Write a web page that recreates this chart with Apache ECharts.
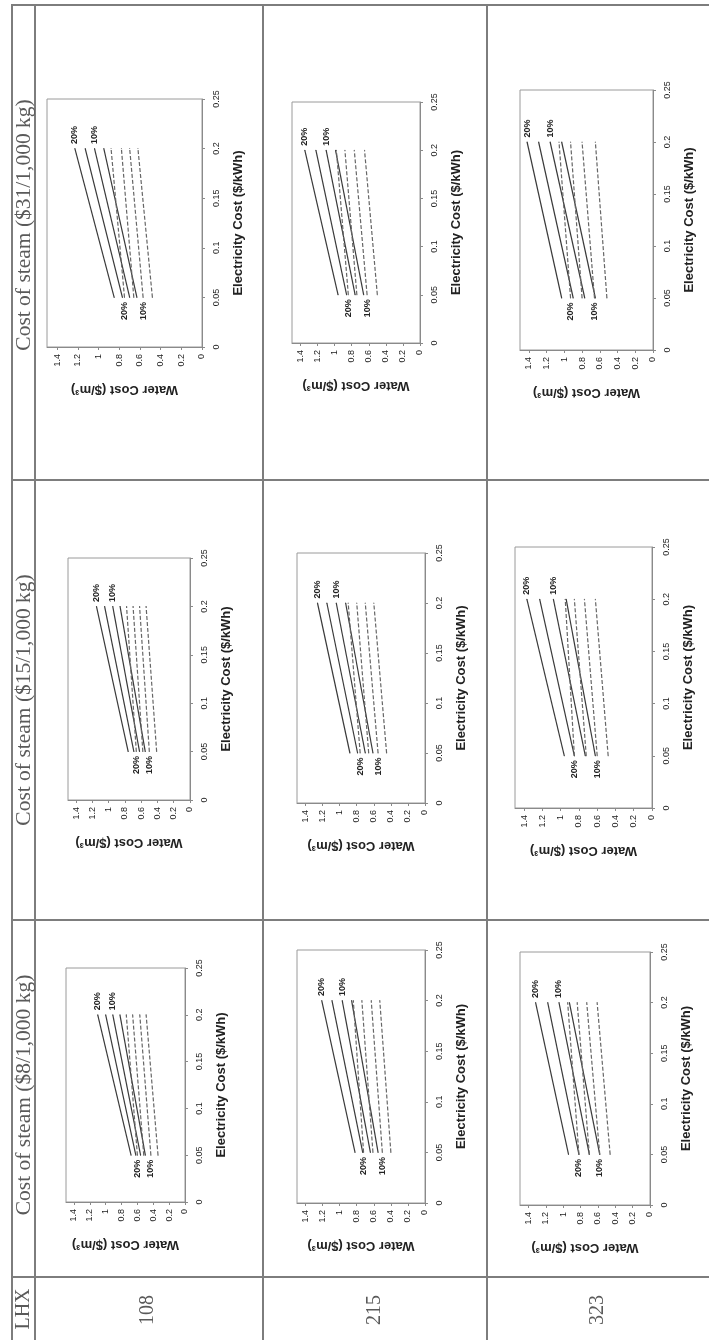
<!DOCTYPE html>
<html><head><meta charset="utf-8">
<script src="https://cdn.jsdelivr.net/npm/echarts@6/dist/echarts.min.js"></script>
<style>html,body{margin:0;padding:0;background:#fff}#main{width:709px;height:1340px}</style>
</head><body><div id="main"></div>
<script>
// ---------------- DATA ----------------
const headerLHX = 'LHX';
const steamCostLabels = ['Cost of steam ($31/1,000 kg)', 'Cost of steam ($15/1,000 kg)', 'Cost of steam ($8/1,000 kg)'];
const lhxLabels = ['108', '215', '323'];
const electricityPoints = [0.05, 0.2];           // $/kWh at line start / end
const lineLabels = ['20%', '', '10%', ''];
// each pair = [water cost at 0.05 $/kWh, water cost at 0.2 $/kWh]
const solid_108_31  = [[0.85, 1.23], [0.77, 1.13], [0.70, 1.04], [0.63, 0.95]];
const dashed_108_31 = [[0.75, 0.88], [0.66, 0.78], [0.57, 0.70], [0.48, 0.62]];
const solid_215_31  = [[0.96, 1.35], [0.86, 1.22], [0.76, 1.10], [0.66, 0.99]];
const dashed_215_31 = [[0.84, 0.98], [0.74, 0.88], [0.62, 0.77], [0.50, 0.65]];
const solid_323_31  = [[1.03, 1.42], [0.90, 1.29], [0.77, 1.16], [0.65, 1.03]];
const dashed_323_31 = [[0.93, 1.06], [0.80, 0.93], [0.66, 0.80], [0.52, 0.65]];
const solid_108_15  = [[0.76, 1.15], [0.69, 1.05], [0.62, 0.95], [0.55, 0.86]];
const dashed_108_15 = [[0.66, 0.78], [0.58, 0.70], [0.50, 0.62], [0.41, 0.54]];
const solid_215_15  = [[0.88, 1.26], [0.79, 1.15], [0.70, 1.04], [0.61, 0.93]];
const dashed_215_15 = [[0.76, 0.90], [0.66, 0.80], [0.55, 0.70], [0.45, 0.60]];
const solid_323_15  = [[0.96, 1.37], [0.85, 1.23], [0.73, 1.08], [0.62, 0.94]];
const dashed_323_15 = [[0.85, 0.95], [0.72, 0.85], [0.60, 0.74], [0.48, 0.62]];
const solid_108_8   = [[0.68, 1.10], [0.62, 1.00], [0.56, 0.91], [0.50, 0.82]];
const dashed_108_8  = [[0.60, 0.74], [0.52, 0.66], [0.43, 0.57], [0.34, 0.49]];
const solid_215_8   = [[0.82, 1.21], [0.73, 1.09], [0.64, 0.97], [0.55, 0.86]];
const dashed_215_8  = [[0.72, 0.84], [0.61, 0.74], [0.50, 0.63], [0.40, 0.53]];
const solid_323_8   = [[0.94, 1.32], [0.82, 1.18], [0.70, 1.05], [0.58, 0.93]];
const dashed_323_8  = [[0.82, 0.95], [0.70, 0.84], [0.58, 0.73], [0.46, 0.61]];
const waterAxisName = 'Water Cost ($/m\u00B3)';
const elecAxisName = 'Electricity Cost ($/kWh)';

// ---------------- LAYOUT ----------------
// plot frames [left, right, top, bottom]
const panels = [
  {frame: [47, 202, 99, 347],   solid: solid_108_31, dashed: dashed_108_31},
  {frame: [292, 420, 102, 343], solid: solid_215_31, dashed: dashed_215_31},
  {frame: [520, 653, 90, 350],  solid: solid_323_31, dashed: dashed_323_31},
  {frame: [68, 190, 558, 800],  solid: solid_108_15, dashed: dashed_108_15},
  {frame: [297, 425, 553, 803], solid: solid_215_15, dashed: dashed_215_15},
  {frame: [515, 652, 547, 808], solid: solid_323_15, dashed: dashed_323_15},
  {frame: [66, 185, 968, 1202], solid: solid_108_8,  dashed: dashed_108_8},
  {frame: [297, 425, 950, 1203],solid: solid_215_8,  dashed: dashed_215_8},
  {frame: [520, 650, 952, 1205],solid: solid_323_8,  dashed: dashed_323_8}
];

const SANS = '"Liberation Sans", Arial, sans-serif';
const SERIF = '"Liberation Serif", "Times New Roman", serif';

const grids = [], xAxes = [], yAxes = [], series = [];
panels.forEach((p, k) => {
  const [l, r, t, b] = p.frame;
  grids.push({left: l, top: t, width: r - l, height: b - t, show: true,
    borderColor: '#9a9a9a', borderWidth: 1, backgroundColor: '#fff'});
  xAxes.push({
    gridIndex: k, type: 'value', min: 0, max: 1.5, interval: 0.2, inverse: true, position: 'bottom',
    axisLine: {show: true, lineStyle: {color: '#8a8a8a', width: 1}},
    axisTick: {show: true, inside: false, length: 3, lineStyle: {color: '#8a8a8a'}},
    axisLabel: {rotate: 90, fontSize: 9, color: '#222', fontFamily: SANS, margin: 7, showMaxLabel: false},
    splitLine: {show: false},
    name: waterAxisName, nameLocation: 'middle', nameRotate: 180, nameGap: 36,
    nameTextStyle: {fontSize: 13, color: '#222', fontFamily: SANS, fontWeight: 'bold'}
  });
  yAxes.push({
    gridIndex: k, type: 'value', min: 0, max: 0.25, interval: 0.05, position: 'right',
    axisLine: {show: true, lineStyle: {color: '#8a8a8a', width: 1}},
    axisTick: {show: true, inside: false, length: 3, lineStyle: {color: '#8a8a8a'}},
    axisLabel: {rotate: 90, fontSize: 9, color: '#222', fontFamily: SANS, margin: 10},
    splitLine: {show: false},
    name: elecAxisName, nameLocation: 'middle', nameRotate: 90, nameGap: 30,
    nameTextStyle: {fontSize: 13, color: '#222', fontFamily: SANS, fontWeight: 'bold'}
  });
  const mk = (pairs, dashed) => pairs.forEach((pair, i) => {
    const lab = lineLabels[i];
    const startItem = {value: [pair[0], electricityPoints[0]]};
    const endItem = {value: [pair[1], electricityPoints[1]]};
    const common = {show: true, formatter: lab, rotate: 90, fontSize: 9, color: '#222',
      fontFamily: SANS, fontWeight: 'bold', verticalAlign: 'middle', distance: 4};
    if (lab && !dashed) endItem.label = Object.assign({position: 'top', align: 'left'}, common);
    if (lab && dashed) startItem.label = Object.assign({position: 'bottom', align: 'right'}, common);
    const col = dashed ? '#666' : '#3a3a3a';
    series.push({
      type: 'line', xAxisIndex: k, yAxisIndex: k, data: [startItem, endItem],
      symbol: 'circle', symbolSize: 1, showSymbol: true, silent: true,
      itemStyle: {color: col},
      lineStyle: dashed ? {color: col, width: 1.2, type: [4, 2]} : {color: col, width: 1.2},
      label: {show: false}
    });
  });
  mk(p.solid, false);
  mk(p.dashed, true);
});

// table rules and texts
const RULE = '#7d7d7d';
const graphics = [];
const vline = (x) => graphics.push({type: 'line', shape: {x1: x, y1: 5, x2: x, y2: 1340}, style: {stroke: RULE, lineWidth: 2}, silent: true});
const hline = (y) => graphics.push({type: 'line', shape: {x1: 11, y1: y, x2: 709, y2: y}, style: {stroke: RULE, lineWidth: 2}, silent: true});
[12, 35, 263, 487].forEach(vline);
[5, 480, 920, 1277].forEach(hline);
const rtext = (txt, x, y, size) => graphics.push({type: 'text', x: x, y: y, rotation: Math.PI / 2, silent: true,
  style: {text: txt, font: size + 'px ' + SERIF, fill: '#5a5a5a', align: 'center', verticalAlign: 'middle',
          textAlign: 'center', textVerticalAlign: 'middle'}});
const headerY = [225, 700, 1095];
steamCostLabels.forEach((s, i) => rtext(s, 24, headerY[i], 21.5));
rtext(headerLHX, 24, 1309, 20);
const valueX = [148, 375, 598];
lhxLabels.forEach((s, i) => rtext(s, valueX[i], 1310, 20));

const chart = echarts.init(document.getElementById('main'), null, {width: 709, height: 1340});
chart.setOption({
  animation: false, backgroundColor: '#fff',
  grid: grids, xAxis: xAxes, yAxis: yAxes, series: series, graphic: graphics
});
</script></body></html>
